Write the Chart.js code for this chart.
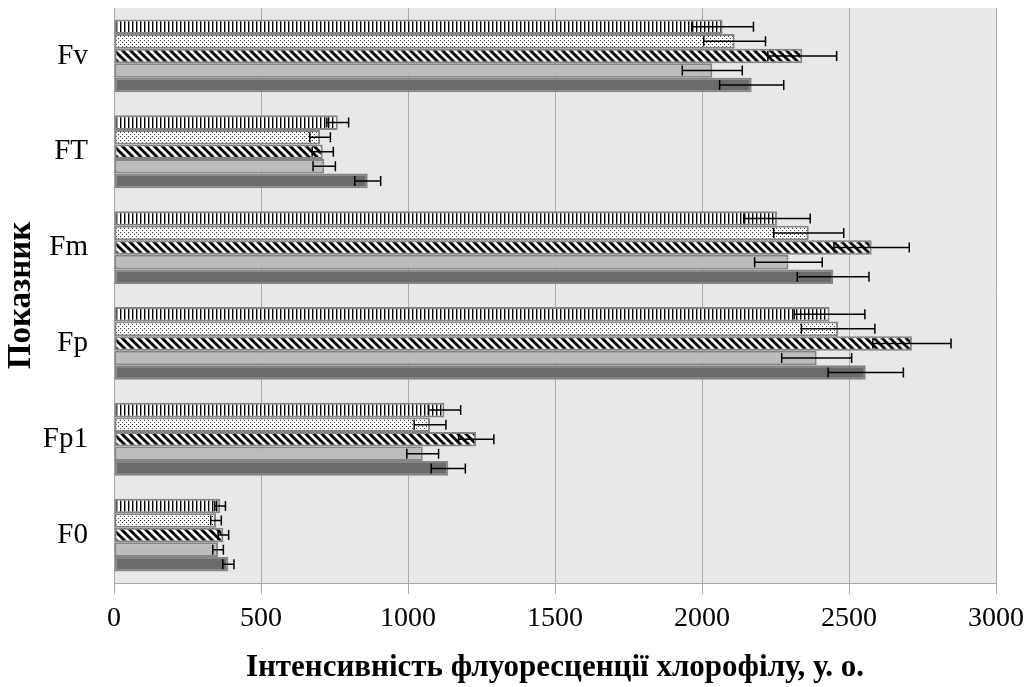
<!DOCTYPE html>
<html>
<head>
<meta charset="utf-8">
<script src="https://cdn.jsdelivr.net/npm/chart.js@4"></script>
<style>
    body { margin: 0; background: #fff; }
    #wrap { width: 1034px; height: 687px; }
</style>
</head>
<body>
<div id="wrap"><canvas id="fluoChart"></canvas></div>
<script>
// Показники (зверху вниз)
const categories = ['Fv', 'FT', 'Fm', 'Fp', 'Fp1', 'F0'];

// Значення серій (порядок категорій як вище)
const stripesValues = [2070, 761, 2255, 2434, 1124, 361];
const stripesErrors = [105, 37, 113, 120, 55, 18];
const dotsValues = [2111, 701, 2363, 2463, 1075, 347];
const dotsErrors = [105, 35, 119, 125, 54, 18];
const hatchValues = [2341, 710, 2577, 2714, 1232, 372];
const hatchErrors = [117, 36, 128, 133, 60, 18];
const lightValues = [2035, 715, 2294, 2390, 1050, 354];
const lightErrors = [102, 38, 115, 119, 54, 18];
const darkValues = [2169, 863, 2446, 2557, 1137, 389];
const darkErrors = [109, 44, 122, 128, 58, 19];

// Підписи осі X
const xTicks = [0, 500, 1000, 1500, 2000, 2500, 3000];

const serif = '"Liberation Serif", "Times New Roman", serif';

// Візерунки заливки
function makePattern(size, draw) {
    const c = document.createElement('canvas');
    c.width = size;
    c.height = size;
    const g = c.getContext('2d');
    g.fillStyle = '#fff';
    g.fillRect(0, 0, size, size);
    draw(g, size);
    return document.getElementById('fluoChart').getContext('2d').createPattern(c, 'repeat');
}

const stripesPattern = makePattern(4, (g) => {
    g.fillStyle = '#000';
    g.fillRect(0, 0, 1, 4);
    g.fillStyle = 'rgba(0,0,0,0.4)';
    g.fillRect(1, 0, 1, 4);
});

const dotsPattern = makePattern(4, (g) => {
    g.fillStyle = '#333';
    g.fillRect(0, 0, 1, 1);
    g.fillRect(2, 2, 1, 1);
});

const hatchPattern = makePattern(8, (g, s) => {
    g.strokeStyle = '#000';
    g.lineWidth = 2.9;
    g.beginPath();
    for (let c = -s; c <= s; c += s) {
        g.moveTo(c - 1, -1);
        g.lineTo(c + s + 1, s + 1);
    }
    g.stroke();
});

// Фон області побудови
const plotBackground = {
    id: 'plotBackground',
    beforeDraw(chart) {
        const { ctx, chartArea: a } = chart;
        ctx.save();
        ctx.fillStyle = '#e8e8e8';
        ctx.fillRect(a.left, a.top, a.right - a.left, a.bottom - a.top);
        ctx.restore();
    }
};

// Планки похибок
const errorBars = {
    id: 'errorBars',
    afterDatasetsDraw(chart) {
        const { ctx } = chart;
        const xScale = chart.scales.x;
        ctx.save();
        ctx.strokeStyle = '#000';
        ctx.lineWidth = 1.5;
        chart.data.datasets.forEach((ds, i) => {
            const meta = chart.getDatasetMeta(i);
            meta.data.forEach((bar, j) => {
                const v = ds.data[j];
                const e = ds.errors[j];
                const x1 = xScale.getPixelForValue(v - e);
                const x2 = xScale.getPixelForValue(v + e);
                const y = bar.y;
                ctx.beginPath();
                ctx.moveTo(x1, y);
                ctx.lineTo(x2, y);
                ctx.moveTo(x1, y - 5);
                ctx.lineTo(x1, y + 5);
                ctx.moveTo(x2, y - 5);
                ctx.lineTo(x2, y + 5);
                ctx.stroke();
            });
        });
        ctx.restore();
    }
};

function series(label, data, errors, fill) {
    return {
        label: label,
        data: data,
        errors: errors,
        backgroundColor: fill,
        borderColor: '#858585',
        borderWidth: 2,
        borderSkipped: false,
        barPercentage: 1,
        categoryPercentage: 0.76
    };
}

new Chart(document.getElementById('fluoChart'), {
    type: 'bar',
    data: {
        labels: categories,
        datasets: [
            series('1', stripesValues, stripesErrors, stripesPattern),
            series('2', dotsValues, dotsErrors, dotsPattern),
            series('3', hatchValues, hatchErrors, hatchPattern),
            series('4', lightValues, lightErrors, '#bcbcbc'),
            series('5', darkValues, darkErrors, '#6b6b6b')
        ]
    },
    options: {
        indexAxis: 'y',
        responsive: true,
        maintainAspectRatio: false,
        animation: false,
        layout: { padding: { left: 0, top: 8, right: 38, bottom: 0 } },
        plugins: {
            legend: { display: false },
            tooltip: { enabled: false }
        },
        scales: {
            x: {
                min: 0,
                max: 3000,
                afterBuildTicks(scale) {
                    scale.ticks = xTicks.map(v => ({ value: v }));
                },
                afterFit(scale) { scale.height = 104; },
                grid: { color: '#a9a9a9', lineWidth: 1, tickLength: 11 },
                border: { color: '#a9a9a9', width: 1 },
                ticks: {
                    color: '#000',
                    padding: 8,
                    maxRotation: 0,
                    callback: (v) => String(v),
                    font: { family: serif, size: 28 }
                },
                title: {
                    display: true,
                    text: 'Інтенсивність флуоресценції хлорофілу, у. о.',
                    color: '#000',
                    padding: { top: 0, bottom: 0 },
                    font: { family: serif, size: 31, weight: 'bold' }
                }
            },
            y: {
                afterFit(scale) {
                    scale.width = 114;
                    scale.paddingTop = 0;
                    scale.paddingBottom = 0;
                },
                grid: { display: false, drawTicks: false },
                border: { color: '#a9a9a9', width: 1 },
                ticks: {
                    color: '#000',
                    padding: 26,
                    font: { family: serif, size: 29 }
                },
                title: {
                    display: true,
                    text: 'Показник',
                    color: '#000',
                    padding: { top: 2, bottom: 0 },
                    font: { family: serif, size: 33, weight: 'bold' }
                }
            }
        }
    },
    plugins: [plotBackground, errorBars]
});
</script>
</body>
</html>
